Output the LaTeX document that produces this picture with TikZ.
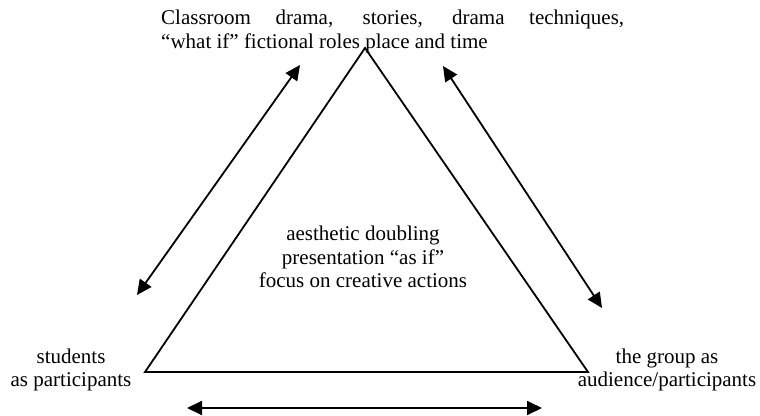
\documentclass[tikz,border=0pt]{standalone}
\usepackage{fontspec}
\setmainfont{Liberation Serif}
\usetikzlibrary{arrows.meta}
\tikzset{
  side/.style={draw=black,line width=1.8pt,line join=miter},
  link/.style={{Triangle[length=15pt,width=14pt]}-{Triangle[length=15pt,width=14pt]},draw=black,line width=1.8pt},
  txt/.style={font=\fontsize{21}{23.5}\selectfont,text=black,inner sep=0pt,align=center},
}
\begin{document}
\begin{tikzpicture}[x=1pt,y=-1pt]
  \useasboundingbox (0,0) rectangle (760,415);

  % the triangle
  \coordinate (apex) at (365,48);
  \coordinate (left) at (145,372);
  \coordinate (right) at (588,372);
  \draw[side] (apex)--(left)--(right)--cycle;

  % labels
  \node[txt,anchor=north west,text width=463pt,align=justify] (drama) at (161,10)
    {Classroom drama, stories, drama techniques,\linebreak ``what if'' fictional roles place and time};
  \node[txt] (centre) at (363,257) {aesthetic doubling\\presentation ``as if''\\focus on creative actions};
  \node[txt] (students) at (71,370) {students\\as participants};
  \node[txt] (group) at (667,370) {the group as\\audience/participants};

  % double arrows
  \coordinate (la) at (137,295);
  \coordinate (lb) at (300,65);
  \coordinate (ra) at (443,66);
  \coordinate (rb) at (602,308);
  \coordinate (ba) at (187,408);
  \coordinate (bb) at (542,408);
  \draw[link] (la)--(lb);
  \draw[link] (ra)--(rb);
  \draw[link] (ba)--(bb);
\end{tikzpicture}
\end{document}
